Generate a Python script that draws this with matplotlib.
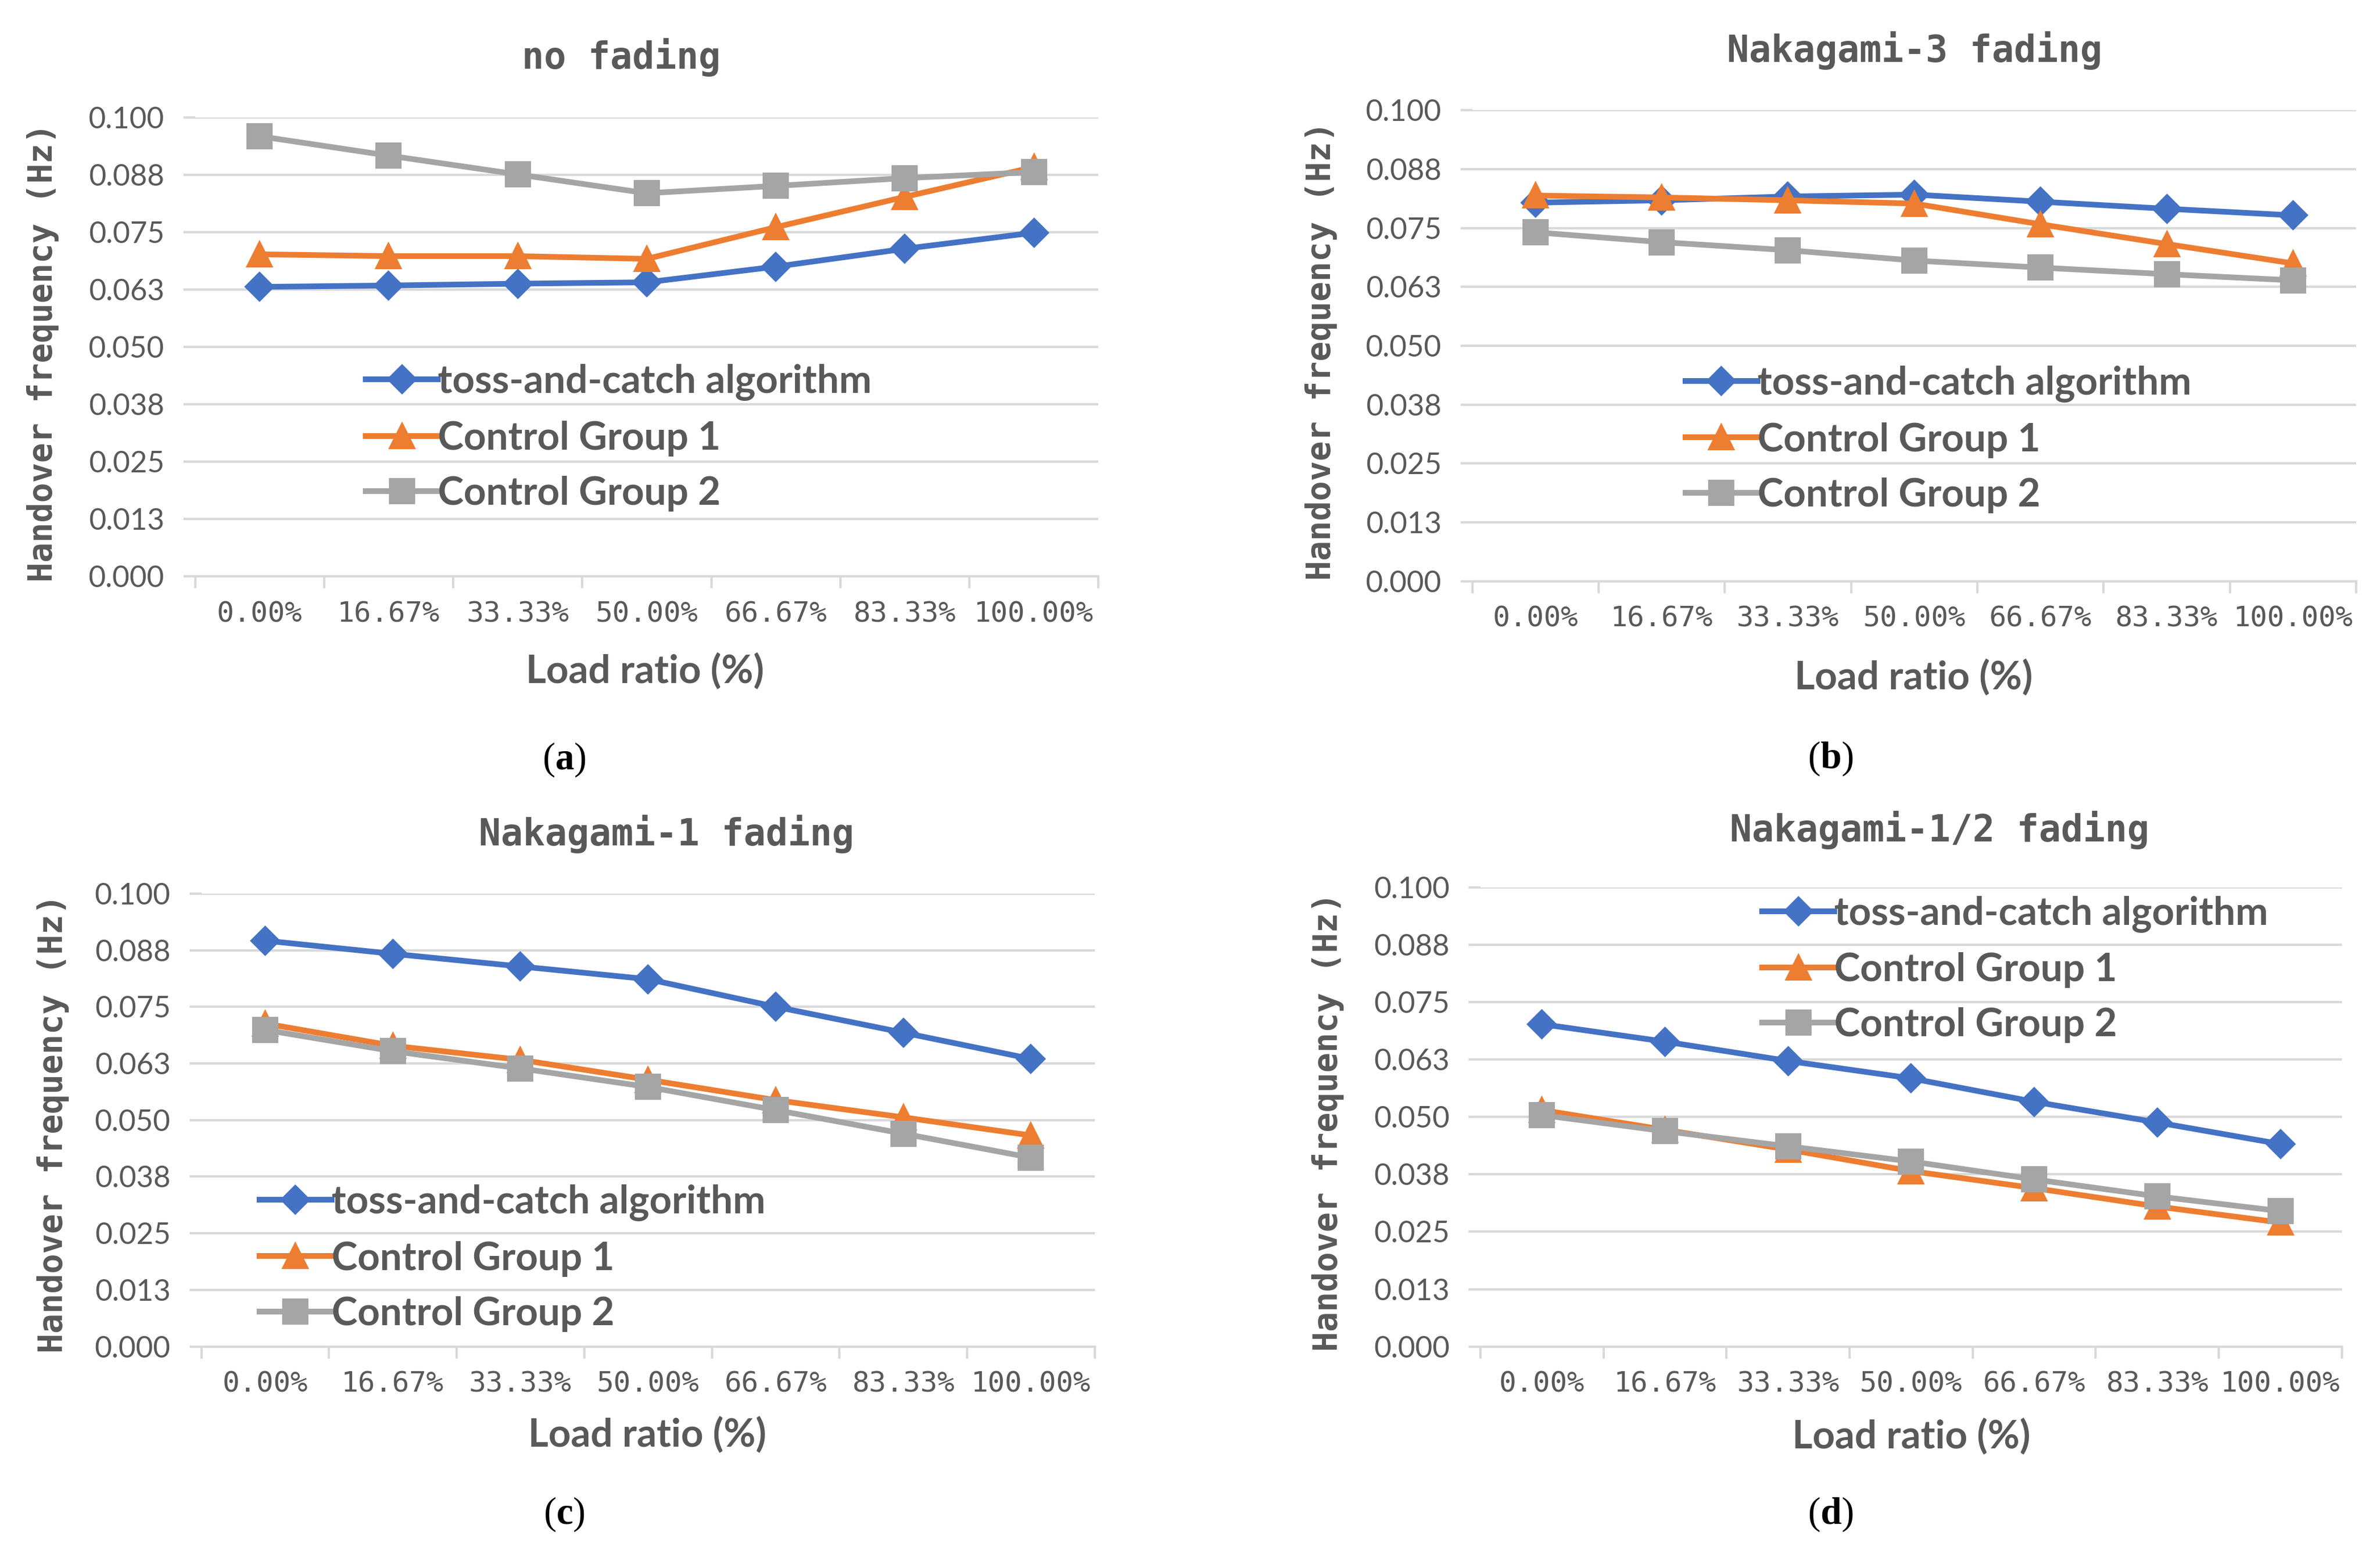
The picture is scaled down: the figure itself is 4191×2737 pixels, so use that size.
import matplotlib.pyplot as plt

plt.rcParams['mathtext.fontset'] = 'custom'
plt.rcParams['mathtext.bf'] = 'Liberation Serif:bold'
plt.rcParams['mathtext.rm'] = 'Liberation Serif'

# data
load_labels = ['0.00%', '16.67%', '33.33%', '50.00%', '66.67%', '83.33%', '100.00%']
series_names = ['toss-and-catch algorithm', 'Control Group 1', 'Control Group 2']

no_fading_toss = [0.0631, 0.0634, 0.0638, 0.0641, 0.0675, 0.0714, 0.0749]
no_fading_cg1 = [0.0702, 0.0698, 0.0698, 0.0692, 0.0761, 0.0827, 0.0892]
no_fading_cg2 = [0.0959, 0.0917, 0.0876, 0.0835, 0.0851, 0.0868, 0.0881]

nak3_toss = [0.0804, 0.0809, 0.0817, 0.0821, 0.0806, 0.0791, 0.0777]
nak3_cg1 = [0.0819, 0.0815, 0.0809, 0.0802, 0.0758, 0.0716, 0.0675]
nak3_cg2 = [0.0741, 0.0720, 0.0703, 0.0681, 0.0666, 0.0652, 0.0639]

nak1_toss = [0.0896, 0.0867, 0.0839, 0.0811, 0.0750, 0.0693, 0.0635]
nak1_cg1 = [0.0713, 0.0664, 0.0633, 0.0589, 0.0544, 0.0506, 0.0466]
nak1_cg2 = [0.0699, 0.0652, 0.0614, 0.0573, 0.0522, 0.0470, 0.0417]

nak_half_toss = [0.0702, 0.0664, 0.0622, 0.0584, 0.0533, 0.0488, 0.0441]
nak_half_cg1 = [0.0515, 0.0472, 0.0429, 0.0382, 0.0345, 0.0305, 0.0270]
nak_half_cg2 = [0.0504, 0.0469, 0.0436, 0.0403, 0.0364, 0.0327, 0.0295]

y_ticks = [0.0, 0.0125, 0.025, 0.0375, 0.05, 0.0625, 0.075, 0.0875, 0.1]
y_tick_labels = ['0.000', '0.013', '0.025', '0.038', '0.050', '0.063', '0.075', '0.088', '0.100']

colors = ['#4472C4', '#ED7D31', '#A5A5A5']
markers = ['D', '^', 's']
msizes = [8, 10, 10]
txt = '#595959'
grid_c = '#D9D9D9'
narrow = ['Lato', 'DejaVu Sans']
mono = ['DejaVu Sans Mono']

panels = [
    dict(title='no fading', data=[no_fading_toss, no_fading_cg1, no_fading_cg2],
         rect=[0.082, 0.629, 0.3795, 0.2954], title_xy=(0.261, 0.963),
         xlab_xy=(0.271, 0.568), ylab_xy=(0.018, 0.773), tag='a', tag_xy=(0.237, 0.511),
         leg=(0.189, 0.302)),
    dict(title='Nakagami-3 fading', data=[nak3_toss, nak3_cg1, nak3_cg2],
         rect=[0.6186, 0.626, 0.3714, 0.303], title_xy=(0.8045, 0.9676),
         xlab_xy=(0.804, 0.564), ylab_xy=(0.555, 0.774), tag='b', tag_xy=(0.769, 0.512),
         leg=(0.241, 0.301)),
    dict(title='Nakagami-1 fading', data=[nak1_toss, nak1_cg1, nak1_cg2],
         rect=[0.0846, 0.1335, 0.3754, 0.2915], title_xy=(0.280, 0.4632),
         xlab_xy=(0.272, 0.0765), ylab_xy=(0.0224, 0.277), tag='c', tag_xy=(0.237, 0.0255),
         leg=(0.065, 0.195)),
    dict(title='Nakagami-1/2 fading', data=[nak_half_toss, nak_half_cg1, nak_half_cg2],
         rect=[0.622, 0.1335, 0.362, 0.2955], title_xy=(0.815, 0.466),
         xlab_xy=(0.803, 0.0756), ylab_xy=(0.558, 0.278), tag='d', tag_xy=(0.769, 0.0255),
         leg=(0.327, 0.821)),
]

fig = plt.figure(figsize=(4191 / 300, 2737 / 300), dpi=300)
fig.patch.set_facecolor('white')

x = list(range(len(load_labels)))

for p in panels:
    ax = fig.add_axes(p['rect'])
    for vals, name, c, m, ms in zip(p['data'], series_names, colors, markers, msizes):
        ax.plot(x, vals, color=c, marker=m, markersize=ms, linewidth=2.4, label=name)

    ax.set_xlim(-0.5, len(load_labels) - 0.5)
    ax.set_ylim(0, 0.1)
    ax.set_yticks(y_ticks)
    ax.set_yticklabels(y_tick_labels, family=narrow, fontsize=12.5, color=txt)
    ax.set_xticks(x)
    ax.set_xticklabels(load_labels, family=mono, fontsize=12, color=txt)
    ax.set_xticks([i - 0.5 for i in range(len(load_labels) + 1)], minor=True)
    ax.tick_params(axis='x', which='major', length=0, pad=10)
    ax.tick_params(axis='x', which='minor', length=5, width=1.0, color=grid_c)
    ax.tick_params(axis='y', length=5, width=1.0, color=grid_c, pad=8)
    ax.grid(axis='y', color=grid_c, linewidth=1.0)
    ax.set_axisbelow(True)
    for s in ['top', 'right', 'left']:
        ax.spines[s].set_visible(False)
    ax.spines['bottom'].set_color(grid_c)
    ax.spines['bottom'].set_linewidth(1.0)

    ax.legend(loc='center left', bbox_to_anchor=p['leg'], frameon=False,
              prop={'family': narrow, 'size': 16.5, 'weight': 'bold'},
              handlelength=1.85, handletextpad=0.0, labelspacing=0.5,
              borderpad=0, borderaxespad=0, labelcolor=txt)

    fig.text(*p['title_xy'], p['title'], family=mono, fontsize=15.5, fontweight='bold',
             color=txt, ha='center', va='center')
    fig.text(*p['xlab_xy'], 'Load ratio (%)', family=narrow, fontsize=16.5,
             fontweight='bold', color=txt, ha='center', va='center')
    fig.text(*p['ylab_xy'], 'Handover frequency (Hz)', family=mono, fontsize=14,
             fontweight='bold', color=txt, rotation=90, ha='center', va='center')
    fig.text(*p['tag_xy'], r'($\mathbf{' + p['tag'] + r'}$)', family='Liberation Serif',
             fontsize=16, color='black', ha='center', va='center')

fig.savefig('out.png', dpi=300, facecolor='white')
